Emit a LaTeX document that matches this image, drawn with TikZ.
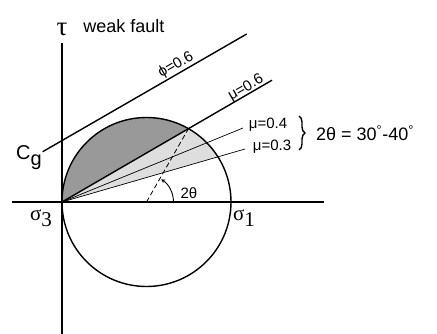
\documentclass[tikz,border=0pt]{standalone}
\usepackage{fontspec}
\setmainfont{Liberation Sans}
\newfontfamily\serifgr{Liberation Serif}
\usetikzlibrary{arrows.meta,calc,decorations.pathreplacing}
\definecolor{darkfill}{gray}{0.6}
\definecolor{lightfill}{gray}{0.87}

\begin{document}
\begin{tikzpicture}[x=1pt,y=1pt,line width=1.4pt,
  lbl/.style={font=\fontsize{15}{17}\selectfont,inner sep=1pt},
  big/.style={font=\fontsize{18}{21}\selectfont,inner sep=1pt},
  grk/.style={font=\serifgr\fontsize{21}{24}\selectfont,inner sep=1pt}]
  \useasboundingbox (-62,-132) rectangle (375,202);
  \coordinate (O) at (0,0);
  \coordinate (C) at (84.5,0);
  \coordinate (P6) at ($(C)+({2*atan(0.58)}:84.5)$);
  \coordinate (P3) at ($(C)+({2*atan(0.29)}:84.5)$);
  % shaded wedges
  \fill[lightfill] (O) -- (P6) arc[start angle={2*atan(0.58)},end angle={2*atan(0.29)},radius=84.5] -- cycle;
  \fill[darkfill] (O) arc[start angle=180,end angle={2*atan(0.58)},radius=84.5] -- cycle;
  % axes and circle
  \draw (-50,0) -- (262,0);
  \draw (0,-132) -- (0,159);
  \draw (C) circle (84.5);
  % friction lines
  \coordinate (M6) at (210,121.8);
  \coordinate (M4) at (181,74);
  \coordinate (M3) at (183,53);
  \coordinate (F0) at (-19.3,50.3);
  \coordinate (F1) at (184.7,168);
  \draw (O) -- (M6);
  \draw[line width=0.7pt] (O) -- (M4);
  \draw[line width=0.7pt] (O) -- (M3);
  \draw (F0) -- (F1);
  \draw[dashed,dash pattern=on 5pt off 3pt,line width=0.8pt] (C) -- (P6);
  \draw[line width=0.9pt,-{Stealth[length=4pt,width=4pt]}] ([shift={(27,0)}]C) arc[start angle=0,end angle=57,radius=27];
  % labels
  \node[grk,font=\serifgr\fontsize{27}{30}\selectfont] (tau) at (0,173) {τ};
  \node[big] (weak) at (62,176) {weak fault};
  \node[lbl,rotate=30] (phi) at (114,137) {ϕ=0.6};
  \node[lbl,rotate=30] (mu6) at (184,114) {μ=0.6};
  \node[lbl] (mu4) at (206,77) {μ=0.4};
  \node[lbl] (mu3) at (210,55) {μ=0.3};
  \draw[decorate,decoration={brace,amplitude=6pt},line width=1.4pt] (237,86) -- (237,52);
  \node[big] (range) at (303,69) {2θ = 30\textsuperscript{°}-40\textsuperscript{°}};
  \node[lbl] (angle) at (127,9) {2θ};
  \node[font=\fontsize{20}{24}\selectfont,inner sep=1pt] (cg) at (-33,44) {C\raisebox{-6pt}{g}};
  \node[grk] (s3) at (-21,-16) {σ\raisebox{-6pt}{3}};
  \node[grk] (s1) at (182,-16) {σ\raisebox{-6pt}{1}};
\end{tikzpicture}
\end{document}
